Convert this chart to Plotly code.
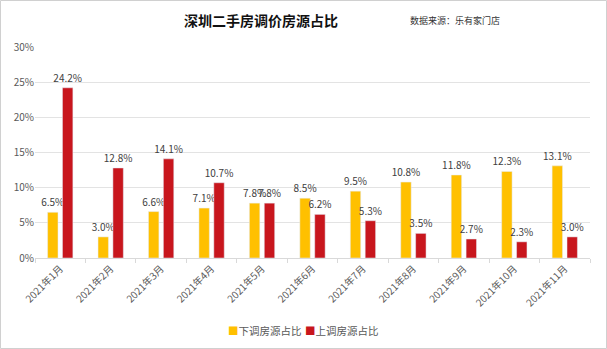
import plotly.graph_objects as go

months = ["2021年1月", "2021年2月", "2021年3月", "2021年4月", "2021年5月", "2021年6月",
          "2021年7月", "2021年8月", "2021年9月", "2021年10月", "2021年11月"]
down_vals = [6.5, 3.0, 6.6, 7.1, 7.8, 8.5, 9.5, 10.8, 11.8, 12.3, 13.1]
up_vals = [24.2, 12.8, 14.1, 10.7, 7.8, 6.2, 5.3, 3.5, 2.7, 2.3, 3.0]
y_ticks = [0, 5, 10, 15, 20, 25, 30]
y_tick_text = ["0%", "5%", "10%", "15%", "20%", "25%", "30%"]
series_names = ["下调房源占比", "上调房源占比"]
colors = ["#FFC000", "#C8161D"]

font = "Noto Sans CJK SC"
fig = go.Figure()
for name, vals, c in zip(series_names, [down_vals, up_vals], colors):
    fig.add_trace(go.Bar(x=months, y=vals, name=name, marker_color=c,
                         text=[f"{v:.1f}%" for v in vals], textposition="outside",
                         constraintext="none", showlegend=False,
                         textfont=dict(size=10, color="#404040"), cliponaxis=False))

W, H = 607, 349
L, R, T, B = 35, 17, 47, 91
pw, ph = W - L - R, H - T - B

fig.update_layout(
    width=W, height=H,
    margin=dict(l=L, r=R, t=T, b=B, autoexpand=False),
    paper_bgcolor="white", plot_bgcolor="white",
    font=dict(family=font, size=10, color="#595959"),
    barmode="group", bargap=0.41, bargroupgap=0.3,
    xaxis=dict(tickangle=-45, showline=True, linecolor="#D9D9D9", ticks="outside",
               tickcolor="#D9D9D9", ticklen=4, tickson="boundaries", automargin=False,
               tickfont=dict(size=10, color="#595959")),
    yaxis=dict(range=[0, 30], tickvals=y_ticks, ticktext=y_tick_text, automargin=False,
               showgrid=True, gridcolor="#E3E3E3", zeroline=False,
               tickfont=dict(size=10, color="#595959")),
)
# legend drawn as annotations
for name, c, xc in zip(series_names, colors, [265, 342]):
    fig.add_annotation(text=f"<span style='color:{c}'>■</span>{name}", xref="paper", yref="paper",
                       x=(xc - L) / pw, y=-72 / ph, xanchor="center", yanchor="middle",
                       showarrow=False, font=dict(size=10.5, color="#595959", family=font))
fig.add_annotation(text="<b>深圳二手房调价房源占比</b>", xref="paper", yref="paper",
                   x=(261 - L) / pw, y=1.0, yshift=27, xanchor="center", yanchor="middle",
                   showarrow=False, font=dict(size=14, color="#111111", family=font))
fig.add_annotation(text="数据来源：乐有家门店", xref="paper", yref="paper",
                   x=(455 - L) / pw, y=1.0, yshift=27, xanchor="center", yanchor="middle",
                   showarrow=False, font=dict(size=9, color="#333333", family=font))
fig.add_shape(type="rect", xref="paper", yref="paper",
              x0=(0.5 - L) / pw, x1=(W - 0.5 - L) / pw,
              y0=-(B - 0.5) / ph, y1=1 + (T - 0.5) / ph,
              line=dict(color="#D0D0D0", width=1), layer="below")
fig.write_html("out.html")
